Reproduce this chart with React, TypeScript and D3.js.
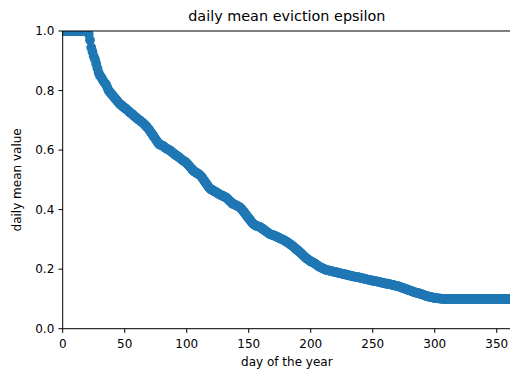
import React from "react";
import * as d3 from "d3";

const epsilonValues: number[] = [
  1.0, 1.0, 1.0, 1.0, 1.0, 1.0, 1.0, 1.0, 1.0, 1.0,
  1.0, 1.0, 1.0, 1.0, 1.0, 1.0, 1.0, 1.0, 1.0, 1.0,
  1.0, 0.99, 0.97, 0.945, 0.93, 0.915, 0.905, 0.89, 0.875, 0.86,
  0.85, 0.845, 0.838, 0.83, 0.825, 0.82, 0.81, 0.8, 0.795, 0.79,
  0.785, 0.78, 0.775, 0.77, 0.765, 0.76, 0.755, 0.752, 0.748, 0.745,
  0.742, 0.738, 0.735, 0.731, 0.727, 0.724, 0.721, 0.717, 0.713, 0.71,
  0.706, 0.703, 0.7, 0.697, 0.693, 0.69, 0.686, 0.682, 0.677, 0.672,
  0.667, 0.66, 0.655, 0.648, 0.642, 0.636, 0.63, 0.624, 0.619, 0.617,
  0.616, 0.614, 0.61, 0.607, 0.604, 0.602, 0.6, 0.597, 0.594, 0.59,
  0.587, 0.584, 0.581, 0.578, 0.575, 0.572, 0.568, 0.565, 0.562, 0.56,
  0.556, 0.552, 0.547, 0.542, 0.537, 0.532, 0.528, 0.526, 0.524, 0.52,
  0.518, 0.515, 0.51, 0.504, 0.498, 0.492, 0.486, 0.48, 0.474, 0.47,
  0.467, 0.465, 0.462, 0.46, 0.458, 0.455, 0.452, 0.45, 0.448, 0.446,
  0.444, 0.442, 0.44, 0.436, 0.432, 0.428, 0.424, 0.42, 0.418, 0.416,
  0.414, 0.412, 0.41, 0.407, 0.403, 0.398, 0.393, 0.388, 0.382, 0.376,
  0.371, 0.366, 0.36, 0.355, 0.351, 0.348, 0.346, 0.344, 0.343, 0.342,
  0.339, 0.336, 0.333, 0.33, 0.327, 0.324, 0.321, 0.318, 0.316, 0.315,
  0.314, 0.312, 0.31, 0.308, 0.306, 0.304, 0.302, 0.3, 0.298, 0.296,
  0.293, 0.291, 0.288, 0.285, 0.282, 0.279, 0.276, 0.272, 0.268, 0.265,
  0.261, 0.258, 0.254, 0.25, 0.246, 0.242, 0.238, 0.235, 0.232, 0.229,
  0.226, 0.224, 0.222, 0.22, 0.217, 0.214, 0.211, 0.208, 0.206, 0.204,
  0.202, 0.2, 0.198, 0.197, 0.196, 0.195, 0.194, 0.193, 0.192, 0.191,
  0.19, 0.189, 0.188, 0.187, 0.186, 0.185, 0.184, 0.183, 0.182, 0.181,
  0.18, 0.179, 0.178, 0.177, 0.176, 0.175, 0.174, 0.174, 0.173, 0.172,
  0.171, 0.17, 0.169, 0.168, 0.167, 0.166, 0.165, 0.164, 0.163, 0.162,
  0.161, 0.16, 0.16, 0.159, 0.158, 0.157, 0.156, 0.155, 0.154, 0.153,
  0.152, 0.151, 0.151, 0.15, 0.149, 0.148, 0.147, 0.146, 0.145, 0.144,
  0.143, 0.142, 0.14, 0.139, 0.137, 0.136, 0.134, 0.133, 0.131, 0.13,
  0.128, 0.127, 0.125, 0.124, 0.122, 0.121, 0.12, 0.119, 0.118, 0.116,
  0.115, 0.113, 0.112, 0.11, 0.109, 0.108, 0.107, 0.106, 0.105, 0.104,
  0.103, 0.103, 0.102, 0.102, 0.101, 0.101, 0.1, 0.1, 0.1, 0.1,
  0.1, 0.1, 0.1, 0.1, 0.1, 0.1, 0.1, 0.1, 0.1, 0.1,
  0.1, 0.1, 0.1, 0.1, 0.1, 0.1, 0.1, 0.1, 0.1, 0.1,
  0.1, 0.1, 0.1, 0.1, 0.1, 0.1, 0.1, 0.1, 0.1, 0.1,
  0.1, 0.1, 0.1, 0.1, 0.1, 0.1, 0.1, 0.1, 0.1, 0.1,
  0.1, 0.1, 0.1, 0.1, 0.1, 0.1, 0.1, 0.1, 0.1, 0.1,
  0.1, 0.1, 0.1, 0.1, 0.1,
];

const xTicks: number[] = [0, 50, 100, 150, 200, 250, 300, 350];
const yTicks: number[] = [0, 0.2, 0.4, 0.6, 0.8, 1.0];
const xDomain: [number, number] = [0, 361.5];
const yDomain: [number, number] = [0, 1];

const W = 510;
const H = 372;
const left = 62.7;
const right = 511;
const top = 31;
const bottom = 328.7;
const color = "#1f77b4";
const font = "DejaVu Sans, sans-serif";

export default function App() {
  const x = d3.scaleLinear().domain(xDomain).range([left, right]);
  const y = d3.scaleLinear().domain(yDomain).range([bottom, top]);
  const pts = epsilonValues.map((v, i) => ({ d: i, v }));
  const fmtY = d3.format(".1f");
  return (
    <svg
      width={W}
      height={H}
      style={{ position: "absolute", left: 0, top: 0, background: "#fff" }}
      fontFamily={font}
    >
      <defs>
        <clipPath id="plotclip">
          <rect x={left} y={top} width={right - left} height={bottom - top} />
        </clipPath>
      </defs>
      <rect x={0} y={0} width={W} height={H} fill="#fff" />
      <g clipPath="url(#plotclip)">
        {pts.map((p) => (
          <circle key={p.d} cx={x(p.d)} cy={y(p.v)} r={4.9} fill={color} />
        ))}
      </g>
      <line x1={left} x2={left} y1={top} y2={bottom} stroke="#000" strokeWidth={1} />
      <line x1={left} x2={right} y1={bottom} y2={bottom} stroke="#000" strokeWidth={1} />
      <line x1={left} x2={right} y1={top} y2={top} stroke="#000" strokeWidth={1} />
      <line x1={right} x2={right} y1={top} y2={bottom} stroke="#000" strokeWidth={1} />
      {xTicks.map((t) => (
        <g key={"x" + t}>
          <line x1={x(t)} x2={x(t)} y1={bottom} y2={bottom + 4.2} stroke="#000" strokeWidth={1} />
          <text x={x(t)} y={bottom + 19} textAnchor="middle" fontSize={12} fill="#000">
            {String(t)}
          </text>
        </g>
      ))}
      {yTicks.map((t) => (
        <g key={"y" + t}>
          <line x1={left - 4.2} x2={left} y1={y(t)} y2={y(t)} stroke="#000" strokeWidth={1} />
          <text x={left - 8.4} y={y(t)} dy="0.36em" textAnchor="end" fontSize={12} fill="#000">
            {fmtY(t)}
          </text>
        </g>
      ))}
      <text x={(left + right) / 2} y={21} textAnchor="middle" fontSize={14.4} fill="#000">
        daily mean eviction epsilon
      </text>
      <text x={(left + right) / 2} y={366} textAnchor="middle" fontSize={12} fill="#000">
        day of the year
      </text>
      <text
        transform={`translate(21, ${(top + bottom) / 2}) rotate(-90)`}
        textAnchor="middle"
        fontSize={12}
        fill="#000"
      >
        daily mean value
      </text>
    </svg>
  );
}
